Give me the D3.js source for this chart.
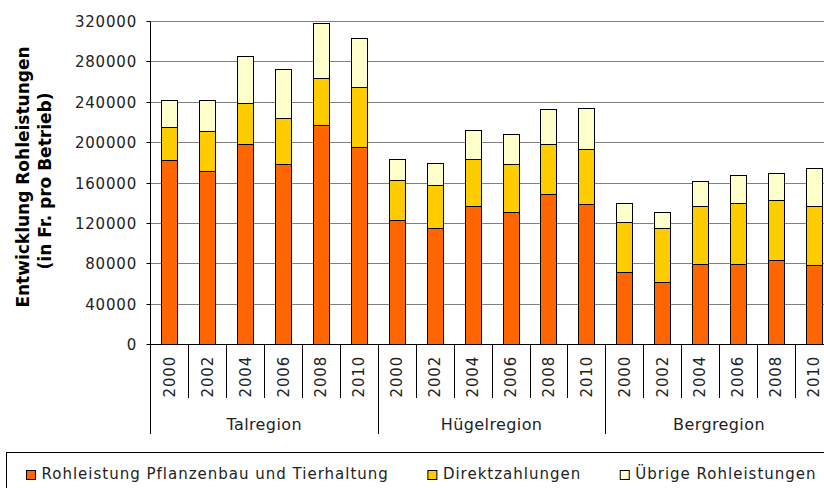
<!DOCTYPE html>
<html>
<head>
<meta charset="utf-8">
<script src="https://cdn.jsdelivr.net/npm/d3@7"></script>
<style>
  html, body { margin: 0; padding: 0; background: #fff; }
  svg { display: block; overflow: hidden; }
</style>
</head>
<body>
<div id="chart"></div>
<script>
const regions = ["Talregion", "Hügelregion", "Bergregion"];
const years = ["2000", "2002", "2004", "2006", "2008", "2010"];
const seriesNames = ["Rohleistung Pflanzenbau und Tierhaltung", "Direktzahlungen", "Übrige Rohleistungen"];
const seriesColors = ["#ff6600", "#ffcc00", "#ffffcc"];
const yTicks = [0, 40000, 80000, 120000, 160000, 200000, 240000, 280000, 320000];

// values per region, years 2000..2010
const pflanzenbau = [
  182000, 171500, 198000, 178000, 216500, 195500,
  123000, 115000, 137000, 131000, 149000, 138500,
  71000, 61000, 79500, 79500, 83000, 78000
];
const direktzahlungen = [
  33000, 39500, 41000, 45500, 47500, 59000,
  39000, 43000, 46000, 47000, 49000, 55000,
  50000, 54000, 57500, 60000, 59500, 59000
];
const uebrige = [
  27000, 31000, 46000, 48500, 54500, 49000,
  21500, 21500, 29000, 30000, 34500, 40000,
  19000, 15500, 24000, 28000, 26500, 37000
];

const W = 824, H = 488;
const plotLeft = 150.5, plotTop = 21, plotBottom = 344, step = 37.9;
const FONT = "'DejaVu Sans', Verdana, sans-serif";

const rows = [];
regions.forEach((r, gi) => years.forEach((yr, yi) => {
  const i = gi * years.length + yi;
  rows.push({ key: r + "|" + yr, region: r, year: yr, s0: pflanzenbau[i], s1: direktzahlungen[i], s2: uebrige[i] });
}));

const svg = d3.select("#chart").append("svg")
  .attr("width", W).attr("height", H)
  .attr("font-family", FONT);

const x = d3.scaleBand()
  .domain(rows.map(d => d.key))
  .range([plotLeft, plotLeft + rows.length * step])
  .paddingInner(0.58)
  .paddingOuter(0.29);

const y = d3.scaleLinear().domain([0, 320000]).range([plotBottom, plotTop]);
const py = v => Math.round(y(v)) + 0.5;

// grid
svg.append("g").selectAll("line")
  .data(yTicks.filter(t => t > 0))
  .join("line")
  .attr("x1", plotLeft).attr("x2", W)
  .attr("y1", py).attr("y2", py)
  .attr("stroke", "#808080").attr("stroke-width", 1);

// stacked bars
const stack = d3.stack().keys(["s0", "s1", "s2"])(rows);
svg.append("g").selectAll("g")
  .data(stack)
  .join("g")
  .attr("fill", (d, i) => seriesColors[i])
  .selectAll("rect")
  .data(d => d)
  .join("rect")
  .attr("x", d => Math.round(x(d.data.key)) + 0.5)
  .attr("width", Math.round(x.bandwidth()))
  .attr("y", d => py(d[1]))
  .attr("height", d => py(d[0]) - py(d[1]))
  .attr("stroke", "#000").attr("stroke-width", 1);

// y axis
const yAxis = svg.append("g");
yAxis.append("line")
  .attr("x1", plotLeft).attr("x2", plotLeft)
  .attr("y1", py(320000)).attr("y2", 434)
  .attr("stroke", "#000");
yAxis.selectAll("line.tick")
  .data(yTicks).join("line").attr("class", "tick")
  .attr("x1", plotLeft - 4).attr("x2", plotLeft)
  .attr("y1", py).attr("y2", py)
  .attr("stroke", "#000");
yAxis.selectAll("text")
  .data(yTicks).join("text")
  .attr("x", 137).attr("y", py).attr("dy", "0.36em")
  .attr("text-anchor", "end")
  .attr("font-size", 15).attr("letter-spacing", 0.8)
  .attr("fill", "#222")
  .text(d => d);

// x axis
svg.append("line")
  .attr("x1", plotLeft).attr("x2", W)
  .attr("y1", py(0)).attr("y2", py(0))
  .attr("stroke", "#000");

const bounds = d3.range(rows.length + 1).map(i => plotLeft + i * step);
svg.append("g").selectAll("line")
  .data(bounds.slice(1))
  .join("line")
  .attr("x1", d => Math.round(d) + 0.5).attr("x2", d => Math.round(d) + 0.5)
  .attr("y1", py(0)).attr("y2", (d, i) => ((i + 1) % years.length === 0 ? 434 : 398))
  .attr("stroke", "#000");

svg.append("g").selectAll("text")
  .data(rows)
  .join("text")
  .attr("transform", d => `translate(${x(d.key) + x.bandwidth() / 2},356) rotate(-90)`)
  .attr("text-anchor", "end")
  .attr("dy", "0.36em")
  .attr("font-size", 15).attr("letter-spacing", 0.8)
  .attr("fill", "#222")
  .text(d => d.year);

svg.append("g").selectAll("text")
  .data(regions)
  .join("text")
  .attr("x", (d, i) => plotLeft + (i * years.length + years.length / 2) * step)
  .attr("y", 430)
  .attr("text-anchor", "middle")
  .attr("font-size", 16).attr("letter-spacing", 0.4)
  .attr("fill", "#222")
  .text(d => d);

// y title
svg.append("text")
  .attr("transform", "translate(29,177) rotate(-90)")
  .attr("text-anchor", "middle")
  .attr("font-size", 17).attr("font-weight", "bold")
  .text("Entwicklung Rohleistungen");
svg.append("text")
  .attr("transform", "translate(51,181) rotate(-90)")
  .attr("text-anchor", "middle")
  .attr("font-size", 17).attr("font-weight", "bold")
  .text("(in Fr. pro Betrieb)");

// legend
svg.append("rect")
  .attr("x", 6.5).attr("y", 452.5)
  .attr("width", W).attr("height", 60)
  .attr("fill", "none").attr("stroke", "#000");

let lx = 26;
seriesNames.forEach((name, i) => {
  const g = svg.append("g");
  g.append("rect")
    .attr("x", lx + 0.5).attr("y", 470.5)
    .attr("width", 9).attr("height", 9)
    .attr("fill", seriesColors[i]).attr("stroke", "#000");
  const t = g.append("text")
    .attr("x", lx + 15.5).attr("y", 479)
    .attr("font-size", 15).attr("letter-spacing", 1)
    .attr("fill", "#222")
    .text(name);
  lx += 15.5 + t.node().getComputedTextLength() + 38.5;
});
</script>
</body>
</html>
